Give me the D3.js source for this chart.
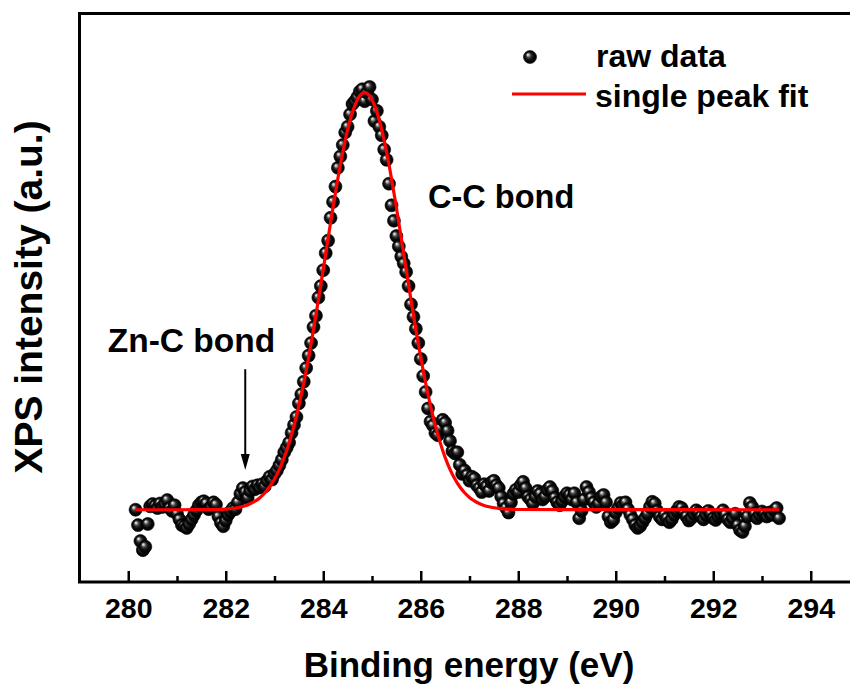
<!DOCTYPE html>
<html><head><meta charset="utf-8">
<script src="https://cdn.jsdelivr.net/npm/d3@7"></script>
<style>
body{margin:0;background:#fff}
svg{display:block}
text{font-family:"Liberation Sans",Arial,Helvetica,sans-serif;font-weight:bold;fill:#000}
</style>
</head><body>
<svg id="chart" width="850" height="684"></svg>
<script>
// ---- data ----
const energyStart = 280.15;   // eV, first raw point
const energyStep = 0.05;      // eV, acquisition step
const rawIntensity = [
  127,100,72,56,62,102,133,137,134,130,138,132,137,144,130,125,135,120,110,100,
  98,95,102,110,118,126,135,140,142,138,128,132,140,136,115,104,98,108,118,124,
  130,128,140,155,165,158,148,160,168,163,170,166,172,168,178,185,180,190,196,205,
  215,228,236,245,262,276,290,314,330,352,376,398,420,448,468,500,520,548,578,600,
  640,668,695,728,748,768,790,800,822,840,845,852,862,866,845,860,870,848,810,828,
  800,785,760,742,700,662,635,608,590,572,560,545,520,488,466,445,420,392,362,334,
  305,282,275,262,258,270,285,280,266,248,230,226,228,206,190,196,188,178,185,182,
  170,165,158,172,168,160,175,178,170,165,150,138,130,122,140,155,162,158,170,176,
  165,150,145,138,150,160,155,145,150,162,167,160,148,140,135,142,150,156,153,145,
  156,140,112,125,145,167,158,148,140,132,138,150,153,140,115,105,109,122,130,139,
  135,140,128,118,110,100,95,98,105,112,120,132,141,138,125,115,110,118,112,105,
  110,118,125,132,130,122,115,108,112,120,126,122,115,110,118,125,120,112,109,115,
  120,126,118,110,105,112,120,100,91,88,98,115,139,132,120,112,118,124,120,115,
  122,118,126,130,112
];
const fitEnergy = [280.15,281.0,281.5,282.0,282.1,282.2,282.3,282.4,282.5,282.6,282.7,282.8,282.9,
  283.0,283.1,283.2,283.3,283.4,283.5,283.6,283.7,283.8,283.9,284.0,284.1,284.2,284.3,284.4,284.5,
  284.6,284.7,284.8,284.85,284.9,285.0,285.1,285.2,285.3,285.4,285.5,285.6,285.7,285.8,285.9,286.0,
  286.1,286.2,286.3,286.4,286.5,286.6,286.7,286.8,286.9,287.0,287.1,287.2,287.3,287.4,287.5,287.6,
  287.7,287.8,288.0,289.0,293.35];
const fitIntensity = [127.0,127.0,127.1,128.2,128.9,130.0,131.6,134.0,137.5,142.0,148.2,156.5,167.4,
  181,198,219,244.5,274.6,309.8,349.8,394.5,443.4,495.5,549.6,604.5,658.2,709.1,755.2,794.7,
  825.9,847.5,858.6,860,858.6,847.5,825.9,794.7,755.2,709.1,658.2,604.5,549.6,495.5,443.4,394.5,
  349.8,309.8,274.6,244.5,219.1,198.0,181.0,167.4,156.8,148.6,142.5,137.9,134.6,132.2,130.5,129.3,
  128.5,128.0,127.4,127.1,127.0];
const majorTicks = [280,282,284,286,288,290,292,294];
const minorTicks = [281,283,285,287,289,291,293];
const legendLabels = ["raw data","single peak fit"];
const xTitle = "Binding energy (eV)";
const yTitle = "XPS intensity (a.u.)";
const annotations = [
  {text:"C-C bond", e:286.15, v:657, size:32.5},
  {text:"Zn-C bond", e:279.58, v:404, size:33.5}
];
const arrowSpec = {e:282.4, from:374, to:197};

(function(){
// ---- layout ----
const svg = d3.select("#chart");
const W = 850, H = 684;
const pL = 79.5, pT = 13.5, pB = 582, pR = 859.5;
svg.append("rect").attr("width",W).attr("height",H).attr("fill","#fff");

const x = d3.scaleLinear().domain([279,295]).range([pL,pR]);
const y = d3.scaleLinear().domain([0,1000]).range([pB,13]);

const defs = svg.append("defs");
const g = defs.append("radialGradient").attr("id","ball")
  .attr("cx","0.5").attr("cy","0.5").attr("r","0.5").attr("fx","0.32").attr("fy","0.3");
g.append("stop").attr("offset","0").attr("stop-color","#ffffff");
g.append("stop").attr("offset","0.14").attr("stop-color","#bdbdbd");
g.append("stop").attr("offset","0.38").attr("stop-color","#3a3a3a");
g.append("stop").attr("offset","0.65").attr("stop-color","#0c0c0c");
g.append("stop").attr("offset","1").attr("stop-color","#000");

const raw = rawIntensity.map((v,i)=>({e: energyStart + i*energyStep, v}));
const fit = fitEnergy.map((e,i)=>({e, v: fitIntensity[i]}));

// raw points
svg.append("g").selectAll("circle").data(raw).join("circle")
  .attr("cx",d=>x(d.e)).attr("cy",d=>y(d.v)).attr("r",6.5)
  .attr("fill","url(#ball)").attr("stroke","#000").attr("stroke-width",0.6);

// fit line
svg.append("path").datum(fit)
  .attr("d", d3.line().x(d=>x(d.e)).y(d=>y(d.v)).curve(d3.curveMonotoneX))
  .attr("fill","none").attr("stroke","#ff0000").attr("stroke-width",3.2);

// frame
svg.append("rect").attr("x",pL).attr("y",pT).attr("width",pR-pL).attr("height",pB-pT)
  .attr("fill","none").attr("stroke","#000").attr("stroke-width",3);

// x axis major
const ax = svg.append("g").attr("transform",`translate(0,${pB})`)
  .call(d3.axisBottom(x).tickValues(majorTicks).tickFormat(d3.format("d")).tickSizeInner(-11).tickSizeOuter(0));
ax.select(".domain").remove();
ax.selectAll(".tick line").attr("stroke","#000").attr("stroke-width",2.5);
ax.selectAll(".tick text").attr("y",36).attr("dy",null).attr("fill","#000")
  .style("font-size","28.5px").style("font-family",'"Liberation Sans",Arial,sans-serif').style("font-weight","bold");
// x axis minor
const axm = svg.append("g").attr("transform",`translate(0,${pB})`)
  .call(d3.axisBottom(x).tickValues(minorTicks).tickFormat("").tickSizeInner(-6).tickSizeOuter(0));
axm.select(".domain").remove();
axm.selectAll(".tick line").attr("stroke","#000").attr("stroke-width",2.5);

// titles
svg.append("text").attr("x",469).attr("y",677).attr("text-anchor","middle")
  .style("font-size","35px").text(xTitle);
svg.append("text").attr("transform","translate(42,297) rotate(-90)").attr("text-anchor","middle")
  .style("font-size","39px").text(yTitle);

// annotations
annotations.forEach(a=>{
  svg.append("text").attr("x",x(a.e)).attr("y",y(a.v)).style("font-size",a.size+"px").text(a.text);
});
const ta = x(arrowSpec.e), tb = y(arrowSpec.to);
svg.append("line").attr("x1",ta).attr("x2",ta)
  .attr("y1",y(arrowSpec.from)).attr("y2",tb-12)
  .attr("stroke","#000").attr("stroke-width",2);
svg.append("path").attr("d",`M${ta},${tb} L${ta-4.5},${tb-16} L${ta+4.5},${tb-16} Z`).attr("fill","#000");

// legend
svg.append("circle").attr("cx",530).attr("cy",57).attr("r",6.5)
  .attr("fill","url(#ball)").attr("stroke","#000").attr("stroke-width",0.6);
svg.append("text").attr("x",596).attr("y",67).style("font-size","32px").text(legendLabels[0]);
svg.append("line").attr("x1",512).attr("x2",586).attr("y1",94).attr("y2",94)
  .attr("stroke","#ff0000").attr("stroke-width",3.2);
svg.append("text").attr("x",595).attr("y",107).style("font-size","32px").text(legendLabels[1]);
})();
</script>
</body></html>
